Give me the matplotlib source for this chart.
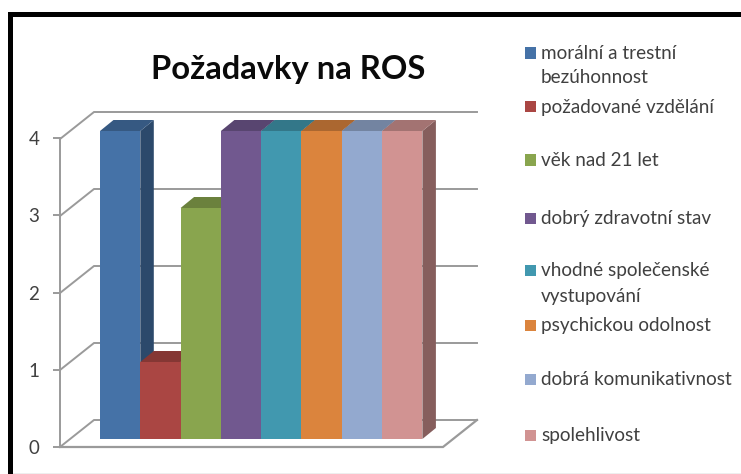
from matplotlib import pyplot as plt
from matplotlib.colors import to_rgb
from matplotlib.patches import Polygon, Rectangle

W, H = 741, 474

# data
categories = ["morální a trestní\nbezúhonnost", "požadované vzdělání", "věk nad 21 let",
              "dobrý zdravotní stav", "vhodné společenské\nvystupování",
              "psychickou odolnost", "dobrá komunikativnost", "spolehlivost"]
values = [4, 1, 3, 4, 4, 4, 4, 4]
colors = ["#4572A7", "#AA4643", "#89A54E", "#71588F", "#4198AF", "#DB843D", "#93A9CF", "#D19392"]
y_ticks = [0, 1, 2, 3, 4]
title = "Požadavky na ROS"

# pixel layout
bar_left, bar_w = 100, 40.3
base_y, unit = 439, 77
depth_x, depth_y = 13.5 / bar_w, 11 / unit
grid_color = "#9a9a9a"
text_color = "#404040"

plt.rcParams["font.family"] = ["Lato", "DejaVu Sans"]
fig = plt.figure(figsize=(W / 100, H / 100), dpi=100, facecolor="white")


def shade(c, k):
    return tuple(v * k for v in to_rgb(c))


# main axes covers the whole figure, x in categories, y in values
ax = fig.add_axes([0, 0, 1, 1])
ax.set_xlim(-bar_left / bar_w, (W - bar_left) / bar_w)
ax.set_ylim((base_y - H) / unit, base_y / unit)
ax.axis("off")

# walls and floor
front_y = -8 / unit
back_y = 19 / unit
left_x = (60 - bar_left) / bar_w
back_left = (94 - bar_left) / bar_w
back_right = (477 - bar_left) / bar_w
front_right = (443 - bar_left) / bar_w
for v in y_ticks:
    ax.plot([left_x, back_left, back_right], [front_y + v, back_y + v, back_y + v],
            color=grid_color, lw=1.4, zorder=1, solid_joinstyle="miter")
ax.plot([left_x, front_right, back_right], [front_y, front_y, back_y],
        color=grid_color, lw=1.6, zorder=1, solid_joinstyle="miter")

# bars, left to right so each one covers the side of the previous one
for i, (v, c) in enumerate(zip(values, colors)):
    z = 2 + i
    ax.bar(i, v, width=1, align="edge", color=c, zorder=z + 0.5)
    side = [(i + 1, 0), (i + 1 + depth_x, depth_y), (i + 1 + depth_x, v + depth_y), (i + 1, v)]
    top = [(i, v), (i + depth_x, v + depth_y), (i + 1 + depth_x, v + depth_y), (i + 1, v)]
    ax.add_patch(Polygon(side, closed=True, fc=shade(c, 0.64), ec="none", zorder=z))
    ax.add_patch(Polygon(top, closed=True, fc=shade(c, 0.78), ec="none", zorder=z))

# value axis on the front left edge
yax = fig.add_axes([60 / W, 1 - 447 / H, 1 / W, (447 - 138) / H])
yax.set_ylim(0, 4)
yax.set_xticks([])
yax.set_yticks(y_ticks)
yax.patch.set_alpha(0)
for name in ["top", "right", "bottom"]:
    yax.spines[name].set_visible(False)
yax.spines["left"].set_color(grid_color)
yax.spines["left"].set_linewidth(1.4)
yax.tick_params(axis="y", length=5, width=1.4, color=grid_color, labelcolor=text_color,
                labelsize=13.5, pad=10)

fig.text(288.5 / W, 1 - 79 / H, title, fontsize=23.6, color="#0a0a0a", ha="center",
         va="baseline", fontweight="bold")

# legend, rows are unevenly spaced in the original
legend_rows = [53, 107, 160, 218, 270, 325, 379, 435]
second_line = [30, 0, 0, 0, 32, 0, 0, 0]
for y, gap, label, c in zip(legend_rows, second_line, categories, colors):
    fig.add_artist(Rectangle((525 / W, 1 - (y + 5.5) / H), 11 / W, 11 / H, fc=c, ec="none",
                             transform=fig.transFigure))
    fig.text(541 / W, 1 - (y + 6) / H, label.split("\n")[0], fontsize=13.6, color=text_color,
             va="baseline")
    if "\n" in label:
        fig.text(541 / W, 1 - (y + gap) / H, label.split("\n")[1], fontsize=13.6,
                 color=text_color, va="baseline")

# black frame around the slide, faint line along the bottom
fig.add_artist(Rectangle((8 / W, 0), 5 / W, 1 - 12 / H, fc="black", ec="none",
                         transform=fig.transFigure))
fig.add_artist(Rectangle((8 / W, 1 - 16.5 / H), 1 - 8 / W, 4.5 / H, fc="black", ec="none",
                         transform=fig.transFigure))
fig.add_artist(Rectangle((13 / W, 0), 1 - 13 / W, 1 / H, fc="#eeeeee", ec="none",
                         transform=fig.transFigure))

fig.savefig("out.png", dpi=100)
